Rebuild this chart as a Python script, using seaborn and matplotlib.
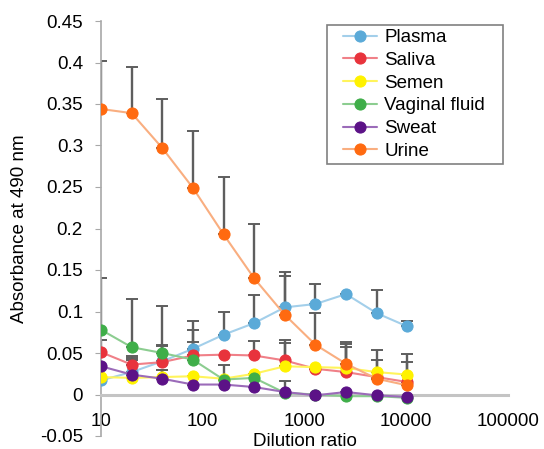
import numpy as np
import pandas as pd
import seaborn as sns
import matplotlib.pyplot as plt
from matplotlib.patches import Rectangle
from matplotlib.ticker import FixedLocator, NullLocator, FuncFormatter

# dilution ratios
dilution = [10, 20, 40, 80, 160, 320, 640, 1280, 2560, 5120, 10240]

# absorbance means
plasma = [0.017, 0.027, 0.040, 0.055, 0.072, 0.086, 0.105, 0.109, 0.121, 0.098, 0.082]
saliva = [0.051, 0.036, 0.039, 0.047, 0.048, 0.047, 0.041, 0.031, 0.027, 0.021, 0.015]
semen = [0.021, 0.020, 0.021, 0.022, 0.019, 0.025, 0.034, 0.033, 0.032, 0.027, 0.024]
vaginal = [0.078, 0.057, 0.050, 0.042, 0.018, 0.020, 0.002, 0.000, -0.002, -0.002, -0.004]
sweat = [0.034, 0.024, 0.019, 0.012, 0.012, 0.009, 0.003, -0.001, 0.003, -0.001, -0.003]
urine = [0.344, 0.339, 0.297, 0.249, 0.193, 0.140, 0.096, 0.060, 0.037, 0.019, 0.011]

# upper error bars
plasma_err = [0.0, 0.017, 0.020, 0.034, 0.028, 0.034, 0.042, 0.024, 0.0, 0.028, 0.006]
saliva_err = [0.015, 0.010, 0.020, 0.031, 0.0, 0.017, 0.025, 0.0, 0.030, 0.0, 0.0]
semen_err = [0.0, 0.0, 0.008, 0.0, 0.0, 0.0, 0.028, 0.0, 0.029, 0.015, 0.015]
vaginal_err = [0.062, 0.058, 0.057, 0.021, 0.018, 0.0, 0.0, 0.0, 0.0, 0.0, 0.0]
sweat_err = [0.0, 0.018, 0.010, 0.0, 0.0, 0.0, 0.013, 0.0, 0.0, 0.0, 0.0]
urine_err = [0.058, 0.056, 0.059, 0.069, 0.069, 0.065, 0.047, 0.038, 0.026, 0.035, 0.038]

names = ['Plasma', 'Saliva', 'Semen', 'Vaginal fluid', 'Sweat', 'Urine']
means = [plasma, saliva, semen, vaginal, sweat, urine]
errs = [plasma_err, saliva_err, semen_err, vaginal_err, sweat_err, urine_err]
marker_cols = ['#5BAAD8', '#E8333C', '#FFF200', '#3FAE49', '#5C1287', '#FF6A10']
line_cols = ['#A3CFEA', '#F08088', '#FFF45C', '#8CCD90', '#9B6BB9', '#F9AE80']

sns.set_style('white')
plt.rcParams['font.family'] = ['Liberation Sans', 'DejaVu Sans']
plt.rcParams['font.size'] = 13.5
plt.rcParams['text.color'] = 'black'
plt.rcParams['axes.labelcolor'] = 'black'

fig = plt.figure(figsize=(5.44, 4.49), dpi=100)
ax = fig.add_axes([101 / 544, 13 / 449, 407 / 544, 415 / 449])

for y, e in zip(means, errs):
    ax.errorbar(dilution, y, yerr=[np.zeros(len(e)), e], fmt='none',
                ecolor='#5E5E5E', elinewidth=1.7, capsize=4, capthick=1.4, zorder=1)

for name, y, mc, lc in zip(names, means, marker_cols, line_cols):
    df = pd.DataFrame({'x': dilution, 'y': y})
    sns.lineplot(data=df, x='x', y='y', ax=ax, color=lc, linewidth=1.5,
                 marker='o', markersize=8, markerfacecolor=mc,
                 markeredgecolor=mc, label=name, zorder=3)

ax.set_xscale('log')
ax.set_xlim(10, 100000)
ax.set_ylim(-0.05, 0.45)

ax.xaxis.set_major_locator(FixedLocator([10, 100, 1000, 10000, 100000]))
ax.xaxis.set_minor_locator(NullLocator())
ax.xaxis.set_major_formatter(FuncFormatter(lambda v, p: '%d' % v))
ax.yaxis.set_major_locator(FixedLocator(np.arange(-0.05, 0.451, 0.05)))
ax.yaxis.set_major_formatter(FuncFormatter(lambda v, p: '%g' % round(v, 2)))

for s in ['top', 'right']:
    ax.spines[s].set_visible(False)
ax.spines['bottom'].set_position(('data', 0))
ax.spines['bottom'].set_color('#C4C4C4')
ax.spines['bottom'].set_linewidth(2.2)
ax.spines['left'].set_color('#A8A8A8')
ax.spines['left'].set_linewidth(1.2)

ax.tick_params(axis='x', length=4, direction='inout', color='#A8A8A8',
               labelcolor='black', pad=11)
ax.tick_params(axis='y', length=4, direction='out', color='#A8A8A8',
               labelcolor='black', pad=9, left=True)

ax.set_xlabel('Dilution ratio', fontsize=13.5)
ax.set_ylabel('Absorbance at 490 nm', fontsize=13.5)
ax.xaxis.set_label_coords(0.5, 0.008)
ax.yaxis.set_label_coords(-0.18, 0.5)

leg = ax.legend(loc='upper left', bbox_to_anchor=(343 / 544, 420 / 449),
                bbox_transform=fig.transFigure, frameon=False,
                handlelength=1.8, handletextpad=0.4, labelspacing=0.3,
                borderpad=0, borderaxespad=0, fontsize=13.5)
fig.patches.append(Rectangle((327 / 544, (449 - 164) / 449), 176 / 544, 139 / 449,
                             transform=fig.transFigure, fill=False,
                             edgecolor='#808080', linewidth=1.2))

fig.savefig('out.png', dpi=100)
